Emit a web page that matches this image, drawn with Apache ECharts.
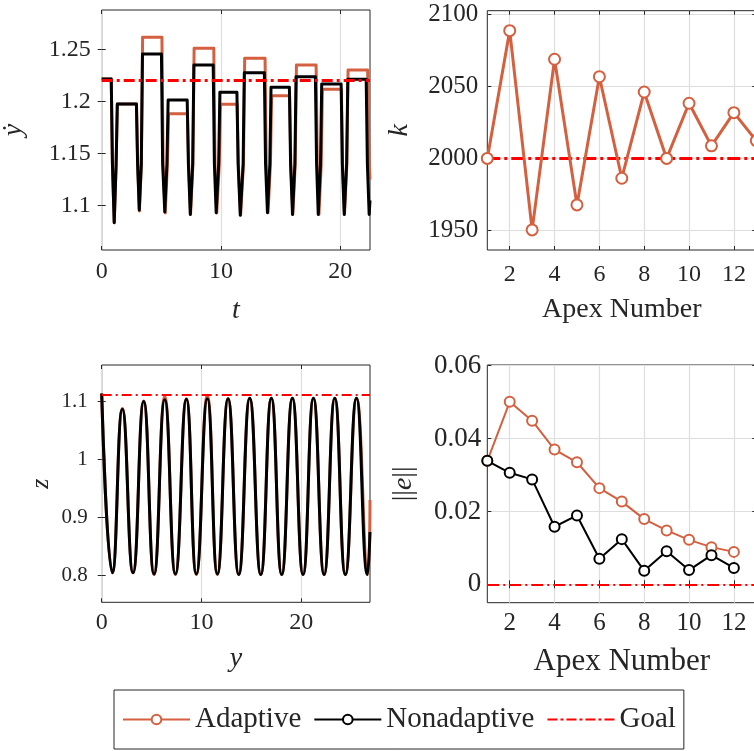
<!DOCTYPE html>
<html>
<head>
<meta charset="utf-8">
<title>Adaptive vs nonadaptive hopping</title>
<script src="https://cdn.jsdelivr.net/npm/echarts@6.0.0/dist/echarts.min.js"></script>
<style>
  html, body { margin: 0; padding: 0; background: #fff; }
  #chart { width: 754px; height: 751px; }
</style>
</head>
<body>
<div id="chart"></div>
<script>
// ===== Data =====

// top-left: horizontal velocity over time, [t, ydot]
const ydotAdaptive = [
  [0, 1.2215], [0.8, 1.2215], [0.9, 1.14], [1.05, 1.0836], [1.21, 1.14], [1.31, 1.1975],
  [2.92, 1.1975], [3.02, 1.14], [3.16, 1.095], [3.33, 1.14], [3.43, 1.2615],
  [5.05, 1.2615], [5.15, 1.14], [5.33, 1.093], [5.51, 1.14], [5.61, 1.1882],
  [7.19, 1.1882], [7.29, 1.14], [7.45, 1.0916], [7.65, 1.14], [7.75, 1.251],
  [9.4, 1.251], [9.5, 1.14], [9.65, 1.093], [9.86, 1.14], [9.96, 1.1972],
  [11.36, 1.1972], [11.46, 1.14], [11.65, 1.0909], [11.89, 1.14], [11.99, 1.2414],
  [13.7, 1.2414], [13.8, 1.14], [13.95, 1.0932], [14.15, 1.14], [14.25, 1.2055],
  [15.76, 1.2055], [15.86, 1.14], [16.03, 1.0916], [16.23, 1.14], [16.33, 1.2349],
  [17.98, 1.2349], [18.08, 1.14], [18.22, 1.0916], [18.41, 1.14], [18.51, 1.2116],
  [20.1, 1.2116], [20.2, 1.14], [20.36, 1.0916], [20.56, 1.14], [20.66, 1.2301],
  [22.3, 1.2301], [22.44, 1.14], [22.5, 1.125]
];
const ydotNonadaptive = [
  [0, 1.2215], [0.8, 1.2215], [0.9, 1.14], [1.05, 1.0836], [1.21, 1.14], [1.31, 1.1975],
  [2.91, 1.1975], [3.01, 1.14], [3.15, 1.0958], [3.32, 1.14], [3.42, 1.2455],
  [5.01, 1.2455], [5.11, 1.14], [5.29, 1.0941], [5.47, 1.14], [5.57, 1.2013],
  [7.17, 1.2013], [7.27, 1.14], [7.43, 1.0916], [7.63, 1.14], [7.73, 1.2349],
  [9.35, 1.2349], [9.45, 1.14], [9.6, 1.0932], [9.81, 1.14], [9.91, 1.2087],
  [11.34, 1.2087], [11.44, 1.14], [11.62, 1.0909], [11.86, 1.14], [11.96, 1.2275],
  [13.64, 1.2275], [13.74, 1.14], [13.9, 1.0932], [14.1, 1.14], [14.2, 1.2135],
  [15.74, 1.2135], [15.84, 1.14], [16.0, 1.0916], [16.2, 1.14], [16.3, 1.2237],
  [17.92, 1.2237], [18.02, 1.14], [18.16, 1.0916], [18.35, 1.14], [18.45, 1.2167],
  [20.08, 1.2167], [20.18, 1.14], [20.34, 1.0916], [20.54, 1.14], [20.64, 1.2212],
  [22.18, 1.2212], [22.28, 1.14], [22.43, 1.0916], [22.5, 1.105]
];
const goalYdot = 1.222;

// top-right: leg stiffness per apex
const apexK = [1, 2, 3, 4, 5, 6, 7, 8, 9, 10, 11, 12, 13];
const stiffnessAdaptive = [2000, 2088.5, 1950.5, 2068.7, 1967.8, 2056.6, 1986.3, 2046, 2000, 2038.2, 2008.7, 2031.7, 2012.3];
const goalStiffness = 2000;

// bottom-left: apex / bottom points of the height trajectory, [y, z]
const heightAdaptive = [
  [0, 1.113], [1.07, 0.805], [2.07, 1.087], [3.14, 0.805], [4.21, 1.1], [5.25, 0.802],
  [6.32, 1.108], [7.39, 0.802], [8.49, 1.104], [9.49, 0.802], [10.59, 1.11], [11.6, 0.802],
  [12.67, 1.104], [13.74, 0.802], [14.84, 1.105], [15.95, 0.802], [17.01, 1.105], [18.05, 0.802],
  [19.12, 1.105], [20.19, 0.802], [21.23, 1.105], [22.3, 0.802], [23.37, 1.105], [24.43, 0.802],
  [25.56, 1.105], [26.68, 0.802], [26.9, 0.93]
];
const heightNonadaptive = [
  [0, 1.113], [1.07, 0.805], [2.07, 1.086], [3.14, 0.805], [4.21, 1.099], [5.25, 0.803],
  [6.32, 1.102], [7.39, 0.803], [8.49, 1.103], [9.49, 0.803], [10.59, 1.104], [11.6, 0.803],
  [12.67, 1.104], [13.74, 0.802], [14.84, 1.105], [15.95, 0.802], [17.01, 1.105], [18.05, 0.802],
  [19.12, 1.105], [20.19, 0.802], [21.23, 1.105], [22.3, 0.802], [23.37, 1.105], [24.43, 0.802],
  [25.54, 1.105], [26.64, 0.802], [26.9, 0.875]
];
const goalHeight = 1.115;

// bottom-right: apex error norm
const apexE = [1, 2, 3, 4, 5, 6, 7, 8, 9, 10, 11, 12];
const errorAdaptive = [0.0339, 0.0501, 0.0449, 0.0370, 0.0335, 0.0264, 0.0227, 0.0179, 0.0148, 0.0122, 0.0102, 0.0089];
const errorNonadaptive = [0.0339, 0.0306, 0.0288, 0.0158, 0.0189, 0.0070, 0.0124, 0.0037, 0.0091, 0.0039, 0.0080, 0.0045];
const goalError = 0;

// tick values
const timeTicks = [0, 10, 20];
const ydotTicks = [1.1, 1.15, 1.2, 1.25];
const apexTicks = [2, 4, 6, 8, 10, 12];
const stiffnessTicks = [1950, 2000, 2050, 2100];
const yPosTicks = [0, 10, 20];
const heightTicks = [0.8, 0.9, 1, 1.1];
const errorTicks = [0, 0.02, 0.04, 0.06];

// ===== Styling =====
const INK = '#262626';
const GRID = '#dedede';
const ORANGE = '#D5603F';
const RED = '#FF0000';
const FONT = '"Liberation Serif", "DejaVu Serif", serif';

const panels = [
  {
    grid: { left: 101.7, top: 10, width: 268.3, height: 240 },
    x: { min: 0, max: 22.5, ticks: timeTicks, split: true, size: 24, margin: 10, name: 't', gap: 47, nameSize: 28, italic: true },
    y: { min: 1.0575, max: 1.2877, ticks: ydotTicks, split: false, size: 24, margin: 11, name: 'ẏ', gap: 74, nameSize: 28, italic: true }
  },
  {
    grid: { left: 487.3, top: 10.7, width: 269, height: 239.3 },
    x: { min: 1, max: 13, ticks: apexTicks, split: true, size: 24, margin: 13, name: 'Apex Number', gap: 46, nameSize: 28, italic: false },
    y: { min: 1936.6, max: 2102.3, ticks: stiffnessTicks, split: true, size: 25, margin: 9, name: 'k', gap: 74, nameSize: 28, italic: true }
  },
  {
    grid: { left: 101.7, top: 365, width: 268.3, height: 237.3 },
    x: { min: 0, max: 26.9, ticks: yPosTicks, split: true, size: 24, margin: 8, name: 'y', gap: 42, nameSize: 28, italic: true },
    y: { min: 0.7543, max: 1.1619, ticks: heightTicks, split: false, size: 21, margin: 14, name: 'z', gap: 48, nameSize: 26, italic: true }
  },
  {
    grid: { left: 487.3, top: 365, width: 269, height: 237.7 },
    x: { min: 1, max: 13, ticks: apexTicks, split: true, size: 25, margin: 8, name: 'Apex Number', gap: 44, nameSize: 31, italic: false },
    y: { min: -0.00505, max: 0.0602, ticks: errorTicks, split: true, size: 27, margin: 6, name: '||{e|e}||', gap: 70, nameSize: 28, italic: false }
  }
];

function buildAxes(dim, gridIndex, a) {
  const tick = { show: true, inside: true, length: 4, customValues: a.ticks, lineStyle: { color: INK, width: 1 } };
  const primary = {
    type: 'value', gridIndex, min: a.min, max: a.max,
    position: dim === 'x' ? 'bottom' : 'left',
    axisLine: { show: false },
    axisTick: tick,
    axisLabel: {
      show: true, customValues: a.ticks, margin: a.margin, color: INK, fontFamily: FONT, fontSize: a.size,
      formatter: v => String(+v.toFixed(6))
    },
    splitLine: { show: a.split, lineStyle: { color: GRID, width: 1.2 } },
    name: a.name, nameLocation: 'middle', nameGap: a.gap,
    nameTextStyle: {
      color: INK, fontFamily: FONT, fontSize: a.nameSize,
      fontStyle: a.italic ? 'italic' : 'normal',
      rich: { e: { color: INK, fontFamily: FONT, fontSize: a.nameSize, fontStyle: 'italic' } }
    }
  };
  const mirror = {
    type: 'value', gridIndex, min: a.min, max: a.max,
    position: dim === 'x' ? 'top' : 'right',
    axisLine: { show: false },
    axisTick: tick,
    axisLabel: { show: false },
    splitLine: { show: false }
  };
  return [primary, mirror];
}

const xAxes = [];
const yAxes = [];
panels.forEach((p, i) => {
  xAxes.push(...buildAxes('x', i, p.x));
  yAxes.push(...buildAxes('y', i, p.y));
});

function goalSeries(panel, value, width, dash, z) {
  return {
    name: 'Goal', type: 'line', xAxisIndex: panel * 2, yAxisIndex: panel * 2,
    data: [], symbol: 'none', color: RED,
    lineStyle: { color: RED, width, type: dash },
    markLine: {
      silent: true, symbol: 'none', z,
      label: { show: false },
      lineStyle: { color: RED, width, type: dash },
      data: [{ yAxis: value }]
    }
  };
}

function curve(name, panel, data, color, width, extra) {
  return Object.assign({
    name, type: 'line', xAxisIndex: panel * 2, yAxisIndex: panel * 2,
    data, symbol: 'none', color,
    lineStyle: { color, width, join: 'round' }
  }, extra || {});
}

const pairs = (xs, ys) => xs.map((x, i) => [x, ys[i]]);

const series = [
  // bottom-right first, so the legend picks up its marker style
  goalSeries(3, goalError, 2, [12, 4, 2, 4], 1),
  curve('Adaptive', 3, pairs(apexE, errorAdaptive), ORANGE, 2, {
    symbol: 'emptyCircle', symbolSize: 10, z: 3,
    itemStyle: { color: ORANGE, borderColor: ORANGE, borderWidth: 2 }
  }),
  curve('Nonadaptive', 3, pairs(apexE, errorNonadaptive), '#000', 2, {
    symbol: 'emptyCircle', symbolSize: 10, z: 4,
    itemStyle: { color: '#000', borderColor: '#000', borderWidth: 2 }
  }),
  // top-left
  curve('Adaptive', 0, ydotAdaptive, ORANGE, 3),
  curve('Nonadaptive', 0, ydotNonadaptive, '#000', 3),
  goalSeries(0, goalYdot, 3, [11, 4, 3, 4], 5),
  // top-right
  goalSeries(1, goalStiffness, 3, [13, 4, 3, 4], 1),
  curve('Adaptive', 1, pairs(apexK, stiffnessAdaptive), ORANGE, 3, {
    symbol: 'emptyCircle', symbolSize: 11, z: 3,
    itemStyle: { color: ORANGE, borderColor: ORANGE, borderWidth: 3 }
  }),
  // bottom-left
  curve('Adaptive', 2, heightAdaptive, ORANGE, 3, { smooth: 0.5 }),
  curve('Nonadaptive', 2, heightNonadaptive, '#000', 3, { smooth: 0.5 }),
  goalSeries(2, goalHeight, 2, [10, 4, 2, 4], 5)
];

const chart = echarts.init(document.getElementById('chart'), null, { renderer: 'canvas' });

chart.setOption({
  animation: false,
  backgroundColor: '#fff',
  grid: panels.map(p => Object.assign({
    show: true, borderColor: INK, borderWidth: 1, backgroundColor: 'transparent',
    containLabel: false, outerBoundsMode: 'none'
  }, p.grid)),
  xAxis: xAxes,
  yAxis: yAxes,
  legend: {
    left: 114, top: 690,
    padding: [15, 8, 15, 8],
    itemGap: 12, itemWidth: 67, itemHeight: 12,
    borderColor: INK, borderWidth: 1, backgroundColor: '#fff',
    textStyle: { color: INK, fontFamily: FONT, fontSize: 29 },
    data: [
      { name: 'Adaptive', lineStyle: { color: ORANGE, width: 2 }, itemStyle: { borderWidth: 2 } },
      { name: 'Nonadaptive', lineStyle: { color: '#000', width: 2 }, itemStyle: { borderWidth: 2 } },
      { name: 'Goal', itemStyle: { opacity: 0 }, lineStyle: { color: RED, width: 2, type: [10, 3, 3, 3] } }
    ],
    selectedMode: false
  },
  series
});

window.addEventListener('resize', () => chart.resize());
</script>
</body>
</html>
